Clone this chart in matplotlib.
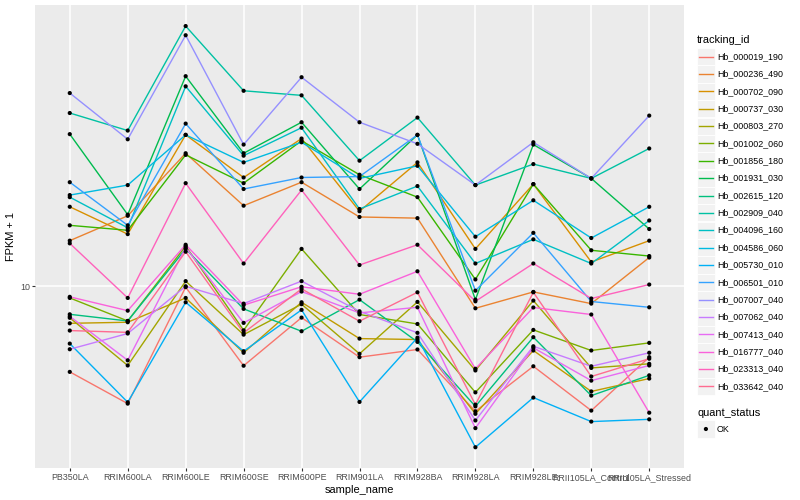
import numpy as np
import matplotlib.pyplot as plt
from matplotlib.patches import Rectangle
from matplotlib.ticker import NullLocator

plt.rcParams['font.family'] = ['Liberation Sans', 'DejaVu Sans']

# ---------------------------------------------------------------
# data: FPKM + 1 per sample
# ---------------------------------------------------------------
samples = ["PB350LA", "RRIM600LA", "RRIM600LE", "RRIM600SE", "RRIM600PE",
           "RRIM901LA", "RRIM928BA", "RRIM928LA", "RRIM928LE",
           "RRII105LA_Control", "RRII105LA_Stressed"]

tracking_ids = ["Hb_000019_190", "Hb_000236_490", "Hb_000702_090", "Hb_000737_030",
                "Hb_000803_270", "Hb_001002_060", "Hb_001856_180", "Hb_001931_030",
                "Hb_002615_120", "Hb_002909_040", "Hb_004096_160", "Hb_004586_060",
                "Hb_005730_010", "Hb_006501_010", "Hb_007007_040", "Hb_007062_040",
                "Hb_007413_040", "Hb_016777_040", "Hb_023313_040", "Hb_033642_040"]

hb_000019_190 = [6.11, 5.09, 9.95, 6.33, 8.35, 6.65, 6.95, 4.87, 6.31, 4.89, 6.65]
hb_000236_490 = [13.0, 15.0, 21.5, 15.9, 18.2, 14.9, 14.8, 8.81, 9.68, 9.05, 11.8]
hb_000702_090 = [15.8, 13.5, 23.9, 18.7, 23.4, 15.4, 20.4, 12.4, 18.0, 11.5, 13.0]
hb_000737_030 = [8.08, 8.13, 9.35, 6.82, 9.12, 7.40, 7.36, 4.80, 6.91, 5.46, 5.88]
hb_000803_270 = [8.34, 6.34, 10.3, 7.57, 9.02, 6.78, 9.14, 6.16, 9.21, 6.25, 6.40]
hb_001002_060 = [9.35, 8.19, 12.6, 7.76, 12.4, 8.50, 8.05, 5.43, 7.78, 6.91, 7.22]
hb_001856_180 = [14.2, 13.8, 21.3, 18.1, 23.1, 19.0, 16.7, 10.4, 18.0, 12.3, 11.9]
hb_001931_030 = [24.0, 15.1, 33.5, 21.5, 25.7, 17.5, 23.9, 9.26, 22.6, 18.6, 13.9]
hb_002615_120 = [8.51, 8.19, 12.4, 8.78, 7.72, 9.26, 7.26, 5.01, 7.46, 5.33, 5.99]
hb_002909_040 = [27.1, 24.5, 44.7, 30.8, 30.0, 20.6, 26.4, 17.9, 20.2, 18.6, 22.1]
hb_004096_160 = [16.7, 14.0, 31.6, 21.2, 24.9, 15.6, 17.8, 11.4, 13.1, 11.4, 14.6]
hb_004586_060 = [16.9, 17.9, 23.9, 20.4, 22.9, 18.6, 20.0, 13.3, 16.4, 13.2, 15.8]
hb_005730_010 = [7.19, 5.13, 9.12, 6.88, 8.73, 5.14, 7.44, 3.96, 5.27, 4.59, 4.65]
hb_006501_010 = [18.2, 14.2, 25.5, 17.5, 18.7, 18.8, 23.9, 9.75, 13.6, 9.16, 8.86]
hb_007007_040 = [30.4, 23.3, 42.4, 22.6, 33.3, 25.7, 22.7, 17.9, 22.9, 18.6, 26.7]
hb_007062_040 = [6.96, 7.62, 10.0, 9.05, 10.3, 8.66, 7.65, 4.62, 7.08, 6.31, 6.82]
hb_007413_040 = [8.41, 6.53, 12.5, 8.10, 9.70, 8.58, 8.86, 4.42, 7.02, 5.81, 6.34]
hb_016777_040 = [9.41, 8.69, 12.7, 8.97, 9.97, 9.55, 10.9, 6.22, 8.85, 8.50, 4.83]
hb_023313_040 = [12.8, 9.35, 18.1, 11.4, 17.4, 11.3, 12.7, 9.17, 11.4, 9.32, 10.1]
hb_033642_040 = [7.75, 7.67, 12.2, 7.65, 9.85, 8.18, 9.66, 5.06, 9.66, 5.95, 6.59]

series = [hb_000019_190, hb_000236_490, hb_000702_090, hb_000737_030, hb_000803_270,
          hb_001002_060, hb_001856_180, hb_001931_030, hb_002615_120, hb_002909_040,
          hb_004096_160, hb_004586_060, hb_005730_010, hb_006501_010, hb_007007_040,
          hb_007062_040, hb_007413_040, hb_016777_040, hb_023313_040, hb_033642_040]

# ggplot default hue palette for 20 levels
colors = ["#F8766D", "#EA8331", "#D89000", "#C09B00", "#A3A500", "#7CAE00", "#39B600",
          "#00BB4E", "#00BF7D", "#00C1A3", "#00BFC4", "#00BAE0", "#00B0F6", "#35A2FF",
          "#9590FF", "#C77CFF", "#E76BF3", "#FA62DB", "#FF62BC", "#FF6C91"]

# ---------------------------------------------------------------
# plot
# ---------------------------------------------------------------
W, H = 800, 500
fig = plt.figure(figsize=(8, 5), dpi=100)
ax = fig.add_axes([35 / W, 1 - 468.3 / H, (684 - 35) / W, (468.3 - 5) / H])
ax.set_facecolor('#EBEBEB')

x = np.arange(len(samples))
for vals, col in zip(series, colors):
    ax.plot(x, vals, color=col, lw=1.0, zorder=2)
for vals in series:
    ax.scatter(x, vals, s=9, color='black', edgecolors='none', zorder=3)

ax.set_yscale('log')
allv = np.log10(np.concatenate([np.array(v) for v in series]))
rng = allv.max() - allv.min()
ax.set_ylim(10 ** (allv.min() - 0.05 * rng), 10 ** (allv.max() + 0.05 * rng))
ax.set_xlim(-0.6, len(samples) - 0.4)

ax.set_xticks(x)
ax.set_xticklabels(samples)
ax.set_yticks([10])
ax.set_yticklabels(["10"])
ax.yaxis.set_minor_locator(NullLocator())
ax.grid(True, color='white', lw=1.1)
ax.set_axisbelow(True)
for s in ax.spines.values():
    s.set_visible(False)
ax.tick_params(length=2.2, width=0.8, color='#333333', labelcolor='#4D4D4D',
               labelsize=6.4, pad=1.5)

ax.set_xlabel('sample_name', fontsize=7.9, labelpad=2)
ax.set_ylabel('FPKM + 1', fontsize=7.9, labelpad=3)

# ---------------------------------------------------------------
# legends (drawn in figure pixel coordinates)
# ---------------------------------------------------------------
lax = fig.add_axes([0, 0, 1, 1])
lax.set_xlim(0, W)
lax.set_ylim(H, 0)
lax.axis('off')

lax.text(697, 40, 'tracking_id', fontsize=7.9, va='center', ha='left')
step = 17.35
for i, (name, col) in enumerate(zip(tracking_ids, colors)):
    yc = 56.7 + i * step
    lax.add_patch(Rectangle((697.3, yc - 8.6), 17.2, 17.2, fc='#F2F2F2', ec='white', lw=0.6))
    lax.plot([699, 712.5], [yc, yc], color=col, lw=1.0)
    lax.text(717, yc, name, fontsize=6.4, va='center', ha='left')

lax.text(697, 412.7, 'quant_status', fontsize=7.9, va='center', ha='left')
lax.add_patch(Rectangle((697.3, 429 - 8.6), 17.2, 17.2, fc='#F2F2F2', ec='white', lw=0.6))
lax.scatter([705.9], [429], s=9, color='black', edgecolors='none')
lax.text(717, 429, 'OK', fontsize=6.4, va='center', ha='left')

plt.savefig('out.png', dpi=100)
